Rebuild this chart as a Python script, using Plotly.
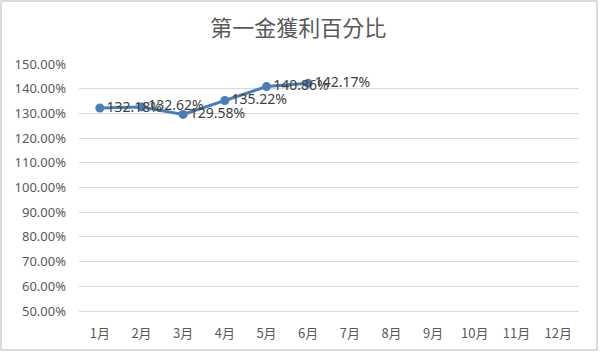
import plotly.graph_objects as go

months = ["1月", "2月", "3月", "4月", "5月", "6月", "7月", "8月", "9月", "10月", "11月", "12月"]
values = [132.18, 132.62, 129.58, 135.22, 140.86, 142.17]
labels = [f"{v:.2f}%" for v in values]
yticks = [50, 60, 70, 80, 90, 100, 110, 120, 130, 140, 150]
yticktext = [f"{v:.2f}%" for v in yticks]

fig = go.Figure()
fig.add_trace(go.Scatter(
    x=months[:len(values)], y=values,
    mode="lines+markers+text",
    line=dict(color="#4a7ebb", width=3),
    marker=dict(color="#4a7ebb", size=9),
    text=labels, textposition="middle right",
    textfont=dict(family="Noto Sans, sans-serif", size=14, color="#404040"),
    cliponaxis=False,
    hoverinfo="skip",
))

fig.update_layout(
    width=600, height=353,
    margin=dict(l=79, r=21, t=64, b=42),
    paper_bgcolor="white", plot_bgcolor="white",
    showlegend=False,
    title=dict(text="第一金獲利百分比", x=0.497, xanchor="center", y=0.92, yanchor="middle",
               font=dict(family="Noto Sans CJK TC", size=22, color="#595959")),
    xaxis=dict(
        type="category", categoryorder="array", categoryarray=months,
        range=[-0.5, 11.5], showgrid=False, showline=True, linecolor="#d9d9d9", linewidth=1,
        ticks="", ticklabelstandoff=10,
        tickfont=dict(family="Noto Sans CJK TC", size=13, color="#595959"),
        fixedrange=True,
    ),
    yaxis=dict(
        range=[50, 150], tickvals=yticks, ticktext=yticktext,
        showgrid=True, gridcolor="#d9d9d9", gridwidth=1, zeroline=False,
        showline=False, ticks="", ticklen=0, ticklabelstandoff=12,
        tickfont=dict(family="Noto Sans, sans-serif", size=13, color="#595959"),
        fixedrange=True,
    ),
    shapes=[dict(type="rect", xref="paper", yref="paper",
                 x0=-0.156, x1=1.036, y0=-0.158, y1=1.255,
                 line=dict(color="#d0d0d0", width=1.5), fillcolor="rgba(0,0,0,0)", layer="below")],
)

fig.write_html("out.html")
